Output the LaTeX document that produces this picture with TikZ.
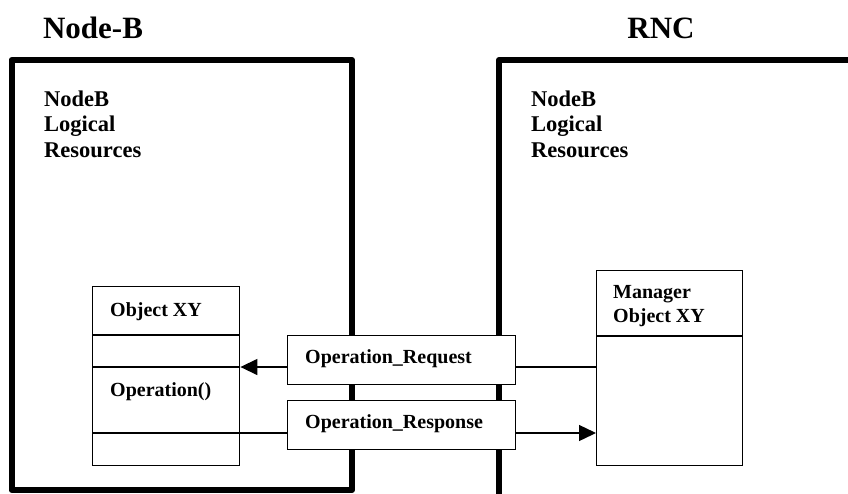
\documentclass[tikz,border=0pt]{standalone}
\usepackage{fontspec}
\setmainfont{Liberation Serif}
\usetikzlibrary{arrows.meta}
\tikzset{
  thick frame/.style={line width=6pt, line join=round},
  thin box/.style={draw, line width=1.4pt, fill=white, inner sep=0pt},
  txt/.style={inner sep=0pt, anchor=base west, align=left},
  bigtitle/.style={inner sep=0pt, anchor=base, font=\bfseries\fontsize{31}{37}\selectfont},
  restext/.style={txt, font=\bfseries\fontsize{22.5}{25.5}\selectfont},
  smalltext/.style={txt, font=\bfseries\fontsize{20}{24}\selectfont},
  conn/.style={line width=1.4pt},
  tip/.style={-{Triangle[length=17pt,width=16pt]}}
}
\begin{document}
\begin{tikzpicture}[x=1pt,y=-1pt]
\useasboundingbox (0,0) rectangle (848,493);
% titles
\node[bigtitle] (tnb) at (93,38) {Node-B};
\node[bigtitle] (trnc) at (661,38) {RNC};
% frames
\draw[thick frame] (11.5,60) rectangle (352,490);
\draw[thick frame] (870,60) -- (499,60) -- (499,500);
% frame texts (anchor at baseline of last line)
\node[restext] (lr1) at (44,157) {NodeB\\Logical\\Resources};
\node[restext] (lr2) at (531,157) {NodeB\\Logical\\Resources};
% Object XY class box
\node[thin box, minimum width=147pt, minimum height=179pt, anchor=north west] (obj) at (92,286) {};
\draw[conn] (obj.west |- 0,335) -- (obj.east |- 0,335);
\draw[conn] (obj.west |- 0,367) -- (obj.east |- 0,367);
\draw[conn] (obj.west |- 0,433) -- (obj.east |- 0,433);
\node[smalltext] (objt) at (110,316) {Object XY};
\node[smalltext] (opt) at (110,396) {Operation()};
% Manager box
\node[thin box, minimum width=146pt, minimum height=195pt, anchor=north west] (mgr) at (596,270) {};
\draw[conn] (mgr.west |- 0,336) -- (mgr.east |- 0,336);
\node[smalltext] (mgrt) at (613,322) {Manager\\Object XY};
% message boxes
\node[thin box, minimum width=228pt, minimum height=49pt, anchor=north west] (req) at (287,335) {};
\node[smalltext] (reqt) at (305,363) {Operation\_Request};
\node[thin box, minimum width=228pt, minimum height=49pt, anchor=north west] (resp) at (287,400) {};
\node[smalltext] (respt) at (305,428) {Operation\_Response};
% connectors
\draw[conn, tip] (req.west |- 0,367) -- (obj.east |- 0,367);
\draw[conn] (req.east |- 0,367) -- (mgr.west |- 0,367);
\draw[conn] (obj.east |- 0,433) -- (resp.west |- 0,433);
\draw[conn, tip] (resp.east |- 0,433) -- (mgr.west |- 0,433);
\end{tikzpicture}
\end{document}
